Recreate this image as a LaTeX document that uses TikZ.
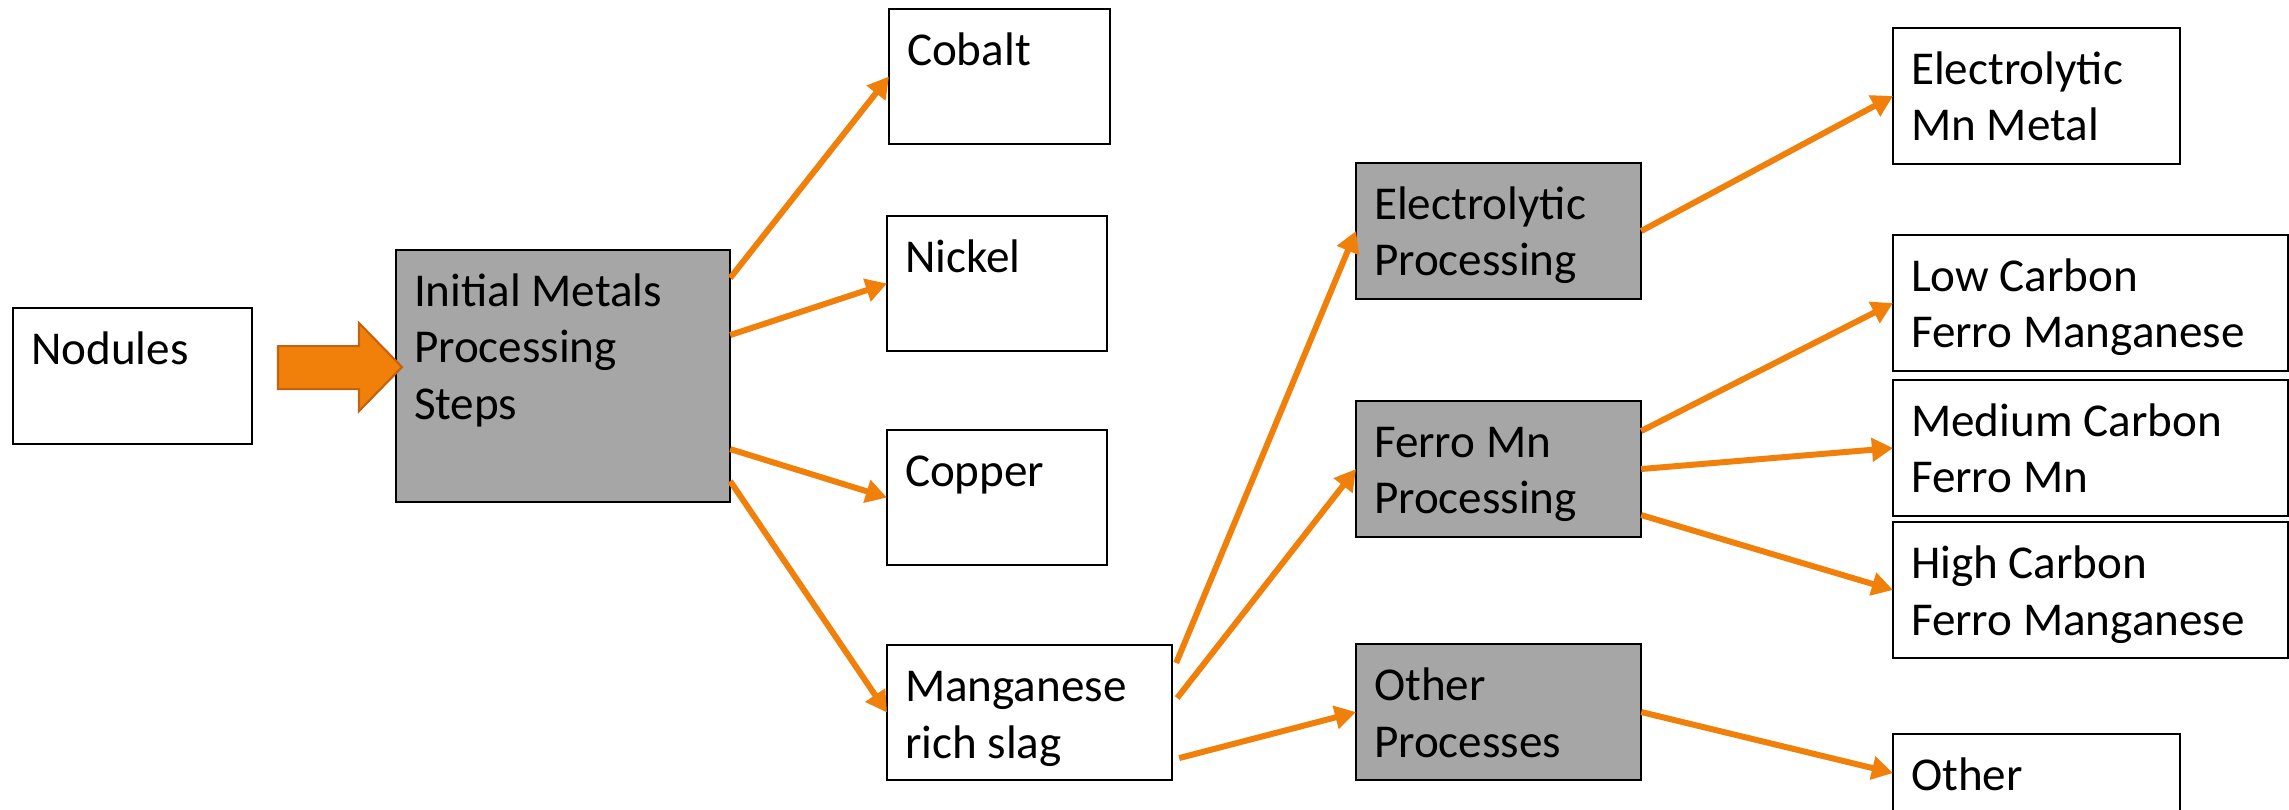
\documentclass[tikz,border=0pt]{standalone}
\usepackage{fontspec}
\setmainfont{Carlito}
\usetikzlibrary{arrows.meta}

\definecolor{flowor}{RGB}{240,128,10}
\definecolor{arrowedge}{RGB}{196,98,16}
\definecolor{boxgray}{RGB}{166,166,166}

\newcommand{\celltext}[3]{\parbox[c][#2][t]{#1}{\raggedright\leftskip=0.18cm\rule{0pt}{0.56cm}#3}}

\tikzset{
  box/.style={draw=black, line width=0.6pt, fill=white, anchor=north west,
    inner sep=0pt, outer sep=0pt, font=\fontsize{13.4}{16.2}\selectfont},
  procbox/.style={box, fill=boxgray},
  flow/.style={draw=flowor, line width=1.7pt, -{Triangle[length=6pt,width=6.5pt]}},
  bigarrow/.style={fill=flowor, draw=arrowedge, line width=0.6pt},
}

\begin{document}
\begin{tikzpicture}[x=0.01cm, y=-0.01cm]
  \useasboundingbox (0,0) rectangle (2289,810);

  \node[box] (nod) at (13,308) {\celltext{2.39cm}{1.36cm}{Nodules}};
  \node[procbox] (init) at (396,250) {\celltext{3.34cm}{2.52cm}{Initial Metals\\Processing\\Steps}};

  \node[box] (cobalt) at (889,9) {\celltext{2.21cm}{1.35cm}{Cobalt}};
  \node[box] (nickel) at (887,216) {\celltext{2.20cm}{1.35cm}{Nickel}};
  \node[box] (copper) at (887,430) {\celltext{2.20cm}{1.35cm}{Copper}};
  \node[box] (slag) at (887,645) {\celltext{2.85cm}{1.35cm}{Manganese\\rich slag}};

  \node[procbox] (elec) at (1356,163) {\celltext{2.85cm}{1.36cm}{Electrolytic\\Processing}};
  \node[procbox] (ferro) at (1356,401) {\celltext{2.85cm}{1.36cm}{Ferro Mn\\Processing}};
  \node[procbox] (othproc) at (1356,644) {\celltext{2.85cm}{1.36cm}{Other\\Processes}};

  \node[box] (mnmetal) at (1893,28) {\celltext{2.87cm}{1.36cm}{Electrolytic\\Mn Metal}};
  \node[box] (lowc) at (1893,235) {\celltext{3.95cm}{1.36cm}{Low Carbon\\Ferro Manganese}};
  \node[box] (medc) at (1893,380) {\celltext{3.95cm}{1.36cm}{Medium Carbon\\Ferro Mn}};
  \node[box] (highc) at (1893,522) {\celltext{3.95cm}{1.36cm}{High Carbon\\Ferro Manganese}};
  \node[box] (other) at (1893,734) {\celltext{2.87cm}{1.36cm}{Other}};

  % block arrow into the first processing step
  \draw[bigarrow] ([shift={(6,-9)}]init.west) -- ++(-43,-44) -- ++(0,23) -- ++(-81,0)
    -- ++(0,43) -- ++(81,0) -- ++(0,22) -- cycle;

  \draw[flow] ([yshift=-0.28cm]init.north east) -- (cobalt.west);
  \draw[flow] ([yshift=-0.85cm]init.north east) -- (nickel.west);
  \draw[flow] ([yshift=-1.99cm]init.north east) -- (copper.west);
  \draw[flow] ([yshift=-2.31cm]init.north east) -- (slag.west);

  \draw[flow] ([xshift=0.04cm,yshift=-0.18cm]slag.north east) -- (elec.west);
  \draw[flow] ([xshift=0.05cm,yshift=-0.53cm]slag.north east) -- (ferro.west);
  \draw[flow] ([xshift=0.07cm,yshift=-1.13cm]slag.north east) -- (othproc.west);

  \draw[flow] (elec.east) -- (mnmetal.west);
  \draw[flow] ([yshift=-0.30cm]ferro.north east) -- (lowc.west);
  \draw[flow] (ferro.east) -- (medc.west);
  \draw[flow] ([yshift=-1.14cm]ferro.north east) -- (highc.west);
  \draw[flow] (othproc.east) -- ([yshift=-0.39cm]other.north west);
\end{tikzpicture}
\end{document}
